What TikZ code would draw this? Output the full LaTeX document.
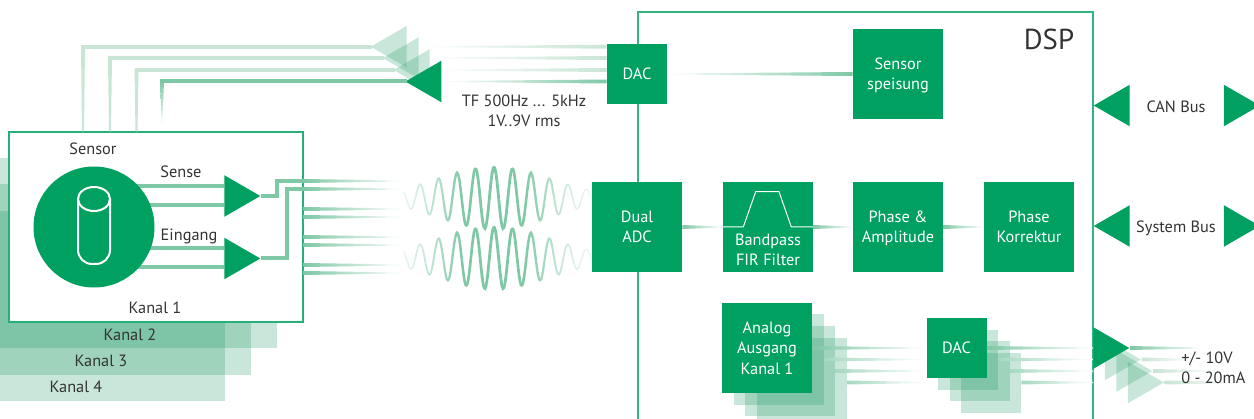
\documentclass[tikz,border=0pt]{standalone}
\usepackage{fontspec,xcolor}
\setmainfont{PT Sans}
\usetikzlibrary{calc,shapes.geometric}
\definecolor{gruen}{HTML}{00A160}
\definecolor{wire}{HTML}{7FC8A6}
\definecolor{hell}{HTML}{C9E5D6}
\definecolor{stapel}{HTML}{0A8F55}
\definecolor{ink}{HTML}{333333}
\newcommand{\lbl}{\fontsize{11.6}{14.6}\selectfont}
\newcommand{\zs}{\rule[-0.225\baselineskip]{0pt}{\baselineskip}}
\tikzset{block/.style={fill=gruen,text=white,inner sep=0,align=center,font=\lbl,minimum size=22.5mm},
  dacblock/.style={block,minimum size=15mm},
  stapelblock/.style={fill=stapel,fill opacity=0.22,inner sep=0,minimum size=#1},
  kanalband/.style={fill=stapel,fill opacity=0.22,inner sep=0,minimum width=73.5mm,minimum height=47.5mm},
  txt/.style={text=ink,inner sep=0,font=\lbl,align=center},
  rahmen/.style={draw=gruen!80!white,line width=0.3mm},
  leitung/.style={draw=#1,line width=1mm},
  leitung/.default=wire,
  dreieck/.style={isosceles triangle,isosceles triangle stretches,inner sep=0,fill=gruen,
    minimum width=10.4mm,minimum height=9mm,anchor=lower side},
  dreieckzu/.style={dreieck,shape border rotate=180},
  schatten/.style={fill=stapel,fill opacity=0.22}}
\newcommand{\keil}[3][wire]{\shade[left color=#1,middle color=#1!90!white,right color=white] ($(#2)+(0,-2)$) -- ($(#2)+(0,2)$) -- ($(#3)+(0,0.5)$) -- ($(#3)+(0,-0.5)$) -- cycle;}
\newcommand{\keilzu}[3][wire]{\shade[right color=#1,middle color=#1!90!white,left color=white] ($(#2)+(0,-2)$) -- ($(#2)+(0,2)$) -- ($(#3)+(0,0.5)$) -- ($(#3)+(0,-0.5)$) -- cycle;}
\newcommand{\welle}[2]{\foreach \t in {-90,-88,...,96}{
    \pgfmathsetmacro{\huelle}{exp(-(\t+1)*(\t+1)/6700)}
    \pgfmathsetmacro{\anteil}{min(100,125*\huelle^1.6)}
    \pgfmathsetmacro{\breite}{0.22+0.48*\huelle}
    \draw[draw=wire!\anteil!white,line width=\breite mm,line cap=round] plot[domain=\t:\t+2,samples=3]
      ({#1+\x},{#2-31*exp(-\x*\x/6700)*cos(\x*19.46)});}}

\begin{document}
\begin{tikzpicture}[x=0.25mm,y=-0.25mm]
\useasboundingbox (0,0) rectangle (1254,419);
\node[kanalband] (kanalvier) at (78,306) {};
\node[kanalband] (kanaldrei) at (104,279.5) {};
\node[kanalband] (kanalzwei) at (130,253) {};
\node[draw=gruen!85!white,line width=0.28mm,fill=white,inner sep=0,minimum width=73.5mm,minimum height=47.5mm] (kanal) at (156,227) {};
\node[txt] (ktext1) at (155,308) {Kanal 1\zs};
\node[txt] (ktext2) at (130,335) {Kanal 2\zs};
\node[txt] (ktext3) at (101,361) {Kanal 3\zs};
\node[txt] (ktext4) at (76,387) {Kanal 4\zs};
\node[txt] (sensortext) at (93,149) {Sensor\zs};
\node[txt] (sensetext) at (181,172) {Sense\zs};
\node[txt] (eingangtext) at (189,235) {Eingang\zs};
\node[dreieck] (sense) at (224,196) {};
\node[dreieck] (eingang) at (224,258.5) {};
\coordinate (mitte) at (94,227);
\draw[leitung] ($(mitte)+(0,-41)$) -- ($(sense.lower side)+(0,-10)$);
\draw[leitung] ($(mitte)+(0,-22)$) -- ($(sense.lower side)+(0,9)$);
\draw[leitung] ($(mitte)+(0,21)$) -- ($(eingang.lower side)+(0,-10.5)$);
\draw[leitung] ($(mitte)+(0,40)$) -- ($(eingang.lower side)+(0,8.5)$);
\node[circle,fill=gruen,inner sep=0,minimum size=30.25mm] (sensor) at (mitte) {};
\draw[white,line width=0.5mm] (94,199) ellipse [x radius=4mm,y radius=3mm];
\draw[white,line width=0.5mm,rounded corners=3.5mm] (78,199) -- (78,264) -- (110,264) -- (110,199);
\draw[rahmen] (638,419) -- (638,12) -- (1093,12) -- (1093,419);
\node[txt,font=\fontsize{20.5}{24}\selectfont] (dsptext) at (1049,39) {DSP};
\foreach \dy in {-46,-38,-18,-10,10,18,38,46}{
  \path (kanal.east) ++(0,\dy) coordinate (s) ++(99,0) coordinate (e);
  \keil{s}{e}}
\coordinate (aus1) at ($(kanal.east)+(0,-46)$);
\coordinate (aus2) at ($(kanal.east)+(0,-38)$);
\draw[leitung] (sense.apex) -- ++(16,0) |- (aus1);
\draw[leitung] (eingang.apex) -- ++(26,0) |- (aus2);
\welle{494}{198}
\welle{494}{258}
\node[dacblock] (dacoben) at (637,74) {DAC\zs};
\node[block] (speisung) at (898,74) {Sensor\zs\\speisung\zs};
\node[block] (adc) at (637,227) {Dual\zs\\ADC\zs};
\node[block] (bandpass) at (768,227) {};
\node[txt,text=white] (bptext) at (768,250) {Bandpass\zs\\FIR Filter\zs};
\node[block] (phase) at (898,227) {Phase \&\zs\\Amplitude\zs};
\node[block] (korrektur) at (1029,227) {Phase\zs\\Korrektur\zs};
\draw[white,line width=0.25mm] (bandpass.west) -- (743.3,227) -- (755.7,191.7) -- (779,191.7) -- (791.3,227) -- (bandpass.east);
\keil{adc.east}{bandpass.west}
\keil{bandpass.east}{phase.west}
\keil{phase.east}{korrektur.west}
\keilzu{speisung.west}{dacoben.east}
% Ruecklauf zum Sensor
\foreach \n/\dy/\lang/\farbe in {1/-27.3/-190/hell,2/-16/-180/hell,3/-4/-170/hell,4/7.5/-166/wire}{
  \path (dacoben.west) ++(0,\dy) coordinate (s) ++(\lang,0) coordinate (e);
  \keilzu[\farbe]{s}{e}}
\coordinate (ecke1) at (83,46.7);
\coordinate (ecke2) at (110,58);
\coordinate (ecke3) at (136.5,70);
\coordinate (ecke4) at (162,81.5);
\node[dreieckzu,schatten] (rueck1) at (407,46.7) {};
\node[dreieckzu,schatten] (rueck2) at (419,58) {};
\node[dreieckzu,schatten] (rueck3) at (430,70) {};
\draw[leitung=hell,line cap=rect] (rueck1.apex) -- (ecke1);
\draw[leitung=hell,line cap=rect] (rueck2.apex) -- (ecke2);
\draw[leitung=hell,line cap=rect] (rueck3.apex) -- (ecke3);
\node[dreieckzu] (rueck4) at (441.7,81.5) {};
\draw[leitung,line cap=rect] (rueck4.apex) -- (ecke4);
\foreach \n in {1,2,3}{
  \fill[hell] ($(ecke\n)+(-2,0)$) -- ($(ecke\n)+(2,0)$) -- ($(ecke\n |- kanal.north)+(1,0)$) -- ($(ecke\n |- kanal.north)+(-1,0)$) -- cycle;}
\shade[top color=wire,bottom color=white] ($(ecke4)+(-2,0)$) -- ($(ecke4)+(2,0)$) -- ($(ecke4 |- kanal.north)+(0,-3)$) -- cycle;
\node[txt] (tftext) at (524,111) {TF 500Hz ... 5kHz\zs\\1V..9V rms\zs};
% Busse
\node[dreieckzu] (canlinks) at (1130,105.5) {};
\node[dreieck] (canrechts) at (1223.5,105.5) {};
\node[txt] (cantext) at (1176,107) {CAN Bus\zs};
\node[dreieckzu] (syslinks) at (1130,226) {};
\node[dreieck] (sysrechts) at (1223.5,226) {};
\node[txt] (systext) at (1176,227) {System Bus\zs};
% Analogausgang
\coordinate (kante) at (1093,348);
\foreach \n in {3,2,1}{
  \node[stapelblock=22.5mm] (analog\n) at ($(767,348)+(11.5*\n,11.5*\n)$) {};
  \node[stapelblock=15mm] (dacunten\n) at ($(956.5,348)+(11.5*\n,11.5*\n)$) {};
  \node[dreieck,schatten] (aus\n) at ($(1093,348)+(11.5*\n,11.5*\n)$) {};}
\node[block] (analog) at (767,348) {Analog\zs\\Ausgang\zs\\Kanal 1\zs};
\node[dacblock] (dacunten) at (956.5,348) {DAC\zs};
\keil{analog.east}{dacunten.west}
\foreach \n in {1,2,3}{
  \path (analog\n.east) coordinate (s);
  \path (s -| dacunten.west) coordinate (e);
  \keil[wire!70!white]{s}{e}
  \path (dacunten\n.east) coordinate (s);
  \path (s -| kante) coordinate (e);
  \keil[wire!70!white]{s}{e}}
\path (dacunten.east -| kante) coordinate (e);
\keil{dacunten.east}{e}
\node[dreieck] (ausgang) at (kante) {};
\path (ausgang.apex) ++(74,0) coordinate (e);
\keil{ausgang.apex}{e}
\foreach \n/\lang in {1/55,2/67,3/80}{
  \path (aus\n.apex) ++(\lang,0) coordinate (e);
  \keil[hell]{aus\n.apex}{e}}
\node[txt,anchor=west] (voltext) at (1181,358) {+/- 10V\zs};
\node[txt,anchor=west] (matext) at (1181,378) {0 - 20mA\zs};
\end{tikzpicture}
\end{document}
